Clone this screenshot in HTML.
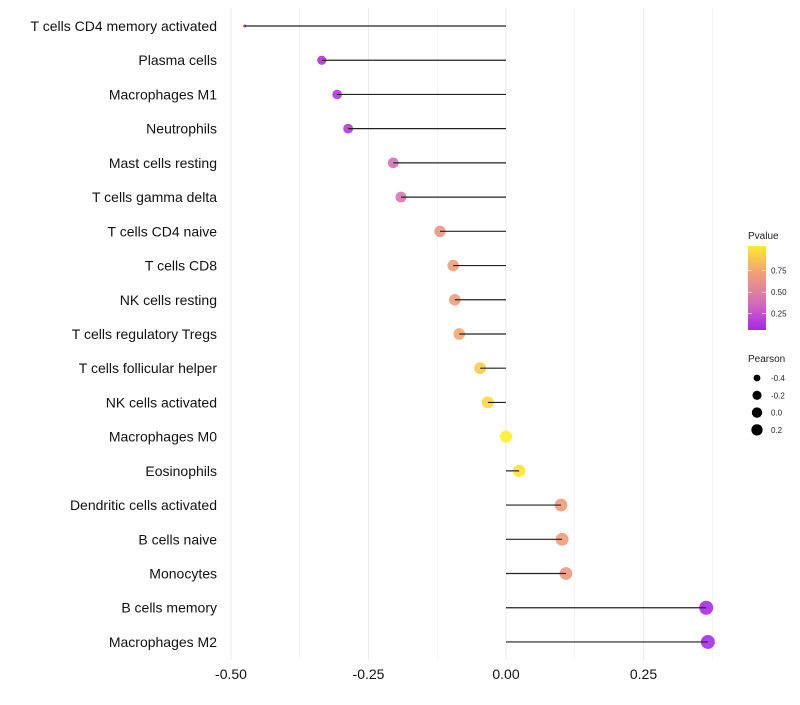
<!DOCTYPE html>
<html><head><meta charset="utf-8"><style>
body{margin:0;background:#fff;font-family:"Liberation Sans",sans-serif}
svg text{font-family:"Liberation Sans",sans-serif}
</style></head><body>
<svg id="chart" width="800" height="700"></svg>
<script>
const categories=["T cells CD4 memory activated","Plasma cells","Macrophages M1","Neutrophils","Mast cells resting","T cells gamma delta","T cells CD4 naive","T cells CD8","NK cells resting","T cells regulatory  Tregs ","T cells follicular helper","NK cells activated","Macrophages M0","Eosinophils","Dendritic cells activated","B cells naive","Monocytes","B cells memory","Macrophages M2"];
const pearson=[-0.475,-0.335,-0.307,-0.287,-0.205,-0.191,-0.12,-0.096,-0.093,-0.085,-0.047,-0.033,0,0.024,0.1,0.102,0.109,0.364,0.367];
const pvalues=[0.05,0.08,0.1,0.12,0.35,0.38,0.6,0.65,0.66,0.7,0.85,0.9,1.0,0.95,0.66,0.66,0.62,0.05,0.05];
const xTicks=[-0.5,-0.25,0,0.25];
const xTickLabels=["-0.50","-0.25","0.00","0.25"];
const colorTicks=[0.25,0.5,0.75];
const sizeLegend=[-0.4,-0.2,0.0,0.2];

const NS="http://www.w3.org/2000/svg";
const svg=document.getElementById('chart');
function mk(t,a,p){const e=document.createElementNS(NS,t);for(const k in a)e.setAttribute(k,a[k]);(p||svg).appendChild(e);return e;}
const x=v=>506+v*550;
const y=i=>26+i*34.22;
const r=v=>Math.sqrt(2.25+51*Math.sqrt(Math.max(0,v+0.475)));
function lerp(a,b,t){return a.map((c,i)=>Math.round(c+(b[i]-c)*t));}
function color(p){const s=[[160,32,240],[212,110,184],[240,160,120],[255,240,40]];const t=Math.max(0,Math.min(1,p))*3;const i=Math.min(2,Math.floor(t));const c=lerp(s[i],s[i+1],t-i);return`rgb(${c[0]},${c[1]},${c[2]})`;}

for(let g=-0.5;g<=0.375+1e-9;g+=0.125){const l=mk('line',{x1:x(g),x2:x(g),y1:8,y2:660,stroke:'#ebebeb','stroke-width':Math.abs((g*4)%1)<1e-9?1:0.6});

}
xTicks.forEach((t,i)=>{const tx=mk('text',{x:x(t),y:679,'text-anchor':'middle','font-size':14,fill:'#111'});tx.textContent=xTickLabels[i];

});
categories.forEach((c,i)=>{
const lab=mk('text',{x:217,y:y(i)+5,'text-anchor':'end','font-size':14,fill:'#111'});lab.textContent=c;


const pt=mk('circle',{cx:x(pearson[i]),cy:y(i),r:r(pearson[i]),fill:color(pvalues[i]),'fill-opacity':0.9});


const ln=mk('line',{x1:x(0),x2:x(pearson[i]),y1:y(i),y2:y(i),stroke:'#222','stroke-width':1.2});


});
const defs=mk('defs',{});const gr=mk('linearGradient',{id:'pg',x1:0,y1:1,x2:0,y2:0},defs);
[0,0.33,0.67,1].forEach(o=>mk('stop',{offset:o,'stop-color':color(0.03+o*0.94)},gr));
const lt=mk('text',{x:748,y:239,'font-size':10,fill:'#222'});lt.textContent='Pvalue';


const bar=mk('rect',{x:748,y:246,width:18,height:84,fill:'url(#pg)'});


const cy=p=>332-(p-0.03)/0.25*21.5+0.6;
colorTicks.forEach(p=>{mk('line',{x1:748,x2:752,y1:cy(p),y2:cy(p),stroke:'#fff','stroke-width':0.6});mk('line',{x1:762,x2:766,y1:cy(p),y2:cy(p),stroke:'#fff','stroke-width':0.6});
const t=mk('text',{x:771,y:cy(p)+3,'font-size':8,fill:'#222'});t.textContent=p.toFixed(2);

});
const st=mk('text',{x:748,y:362,'font-size':10,fill:'#222'});st.textContent='Pearson';


sizeLegend.forEach((v,i)=>{const yy=378+i*17.3;const c=mk('circle',{cx:757,cy:yy,r:r(v)*0.85,fill:'#000'});


const t=mk('text',{x:771,y:yy+3,'font-size':8,fill:'#222'});t.textContent=v.toFixed(1);

});
</script>
</body></html>
